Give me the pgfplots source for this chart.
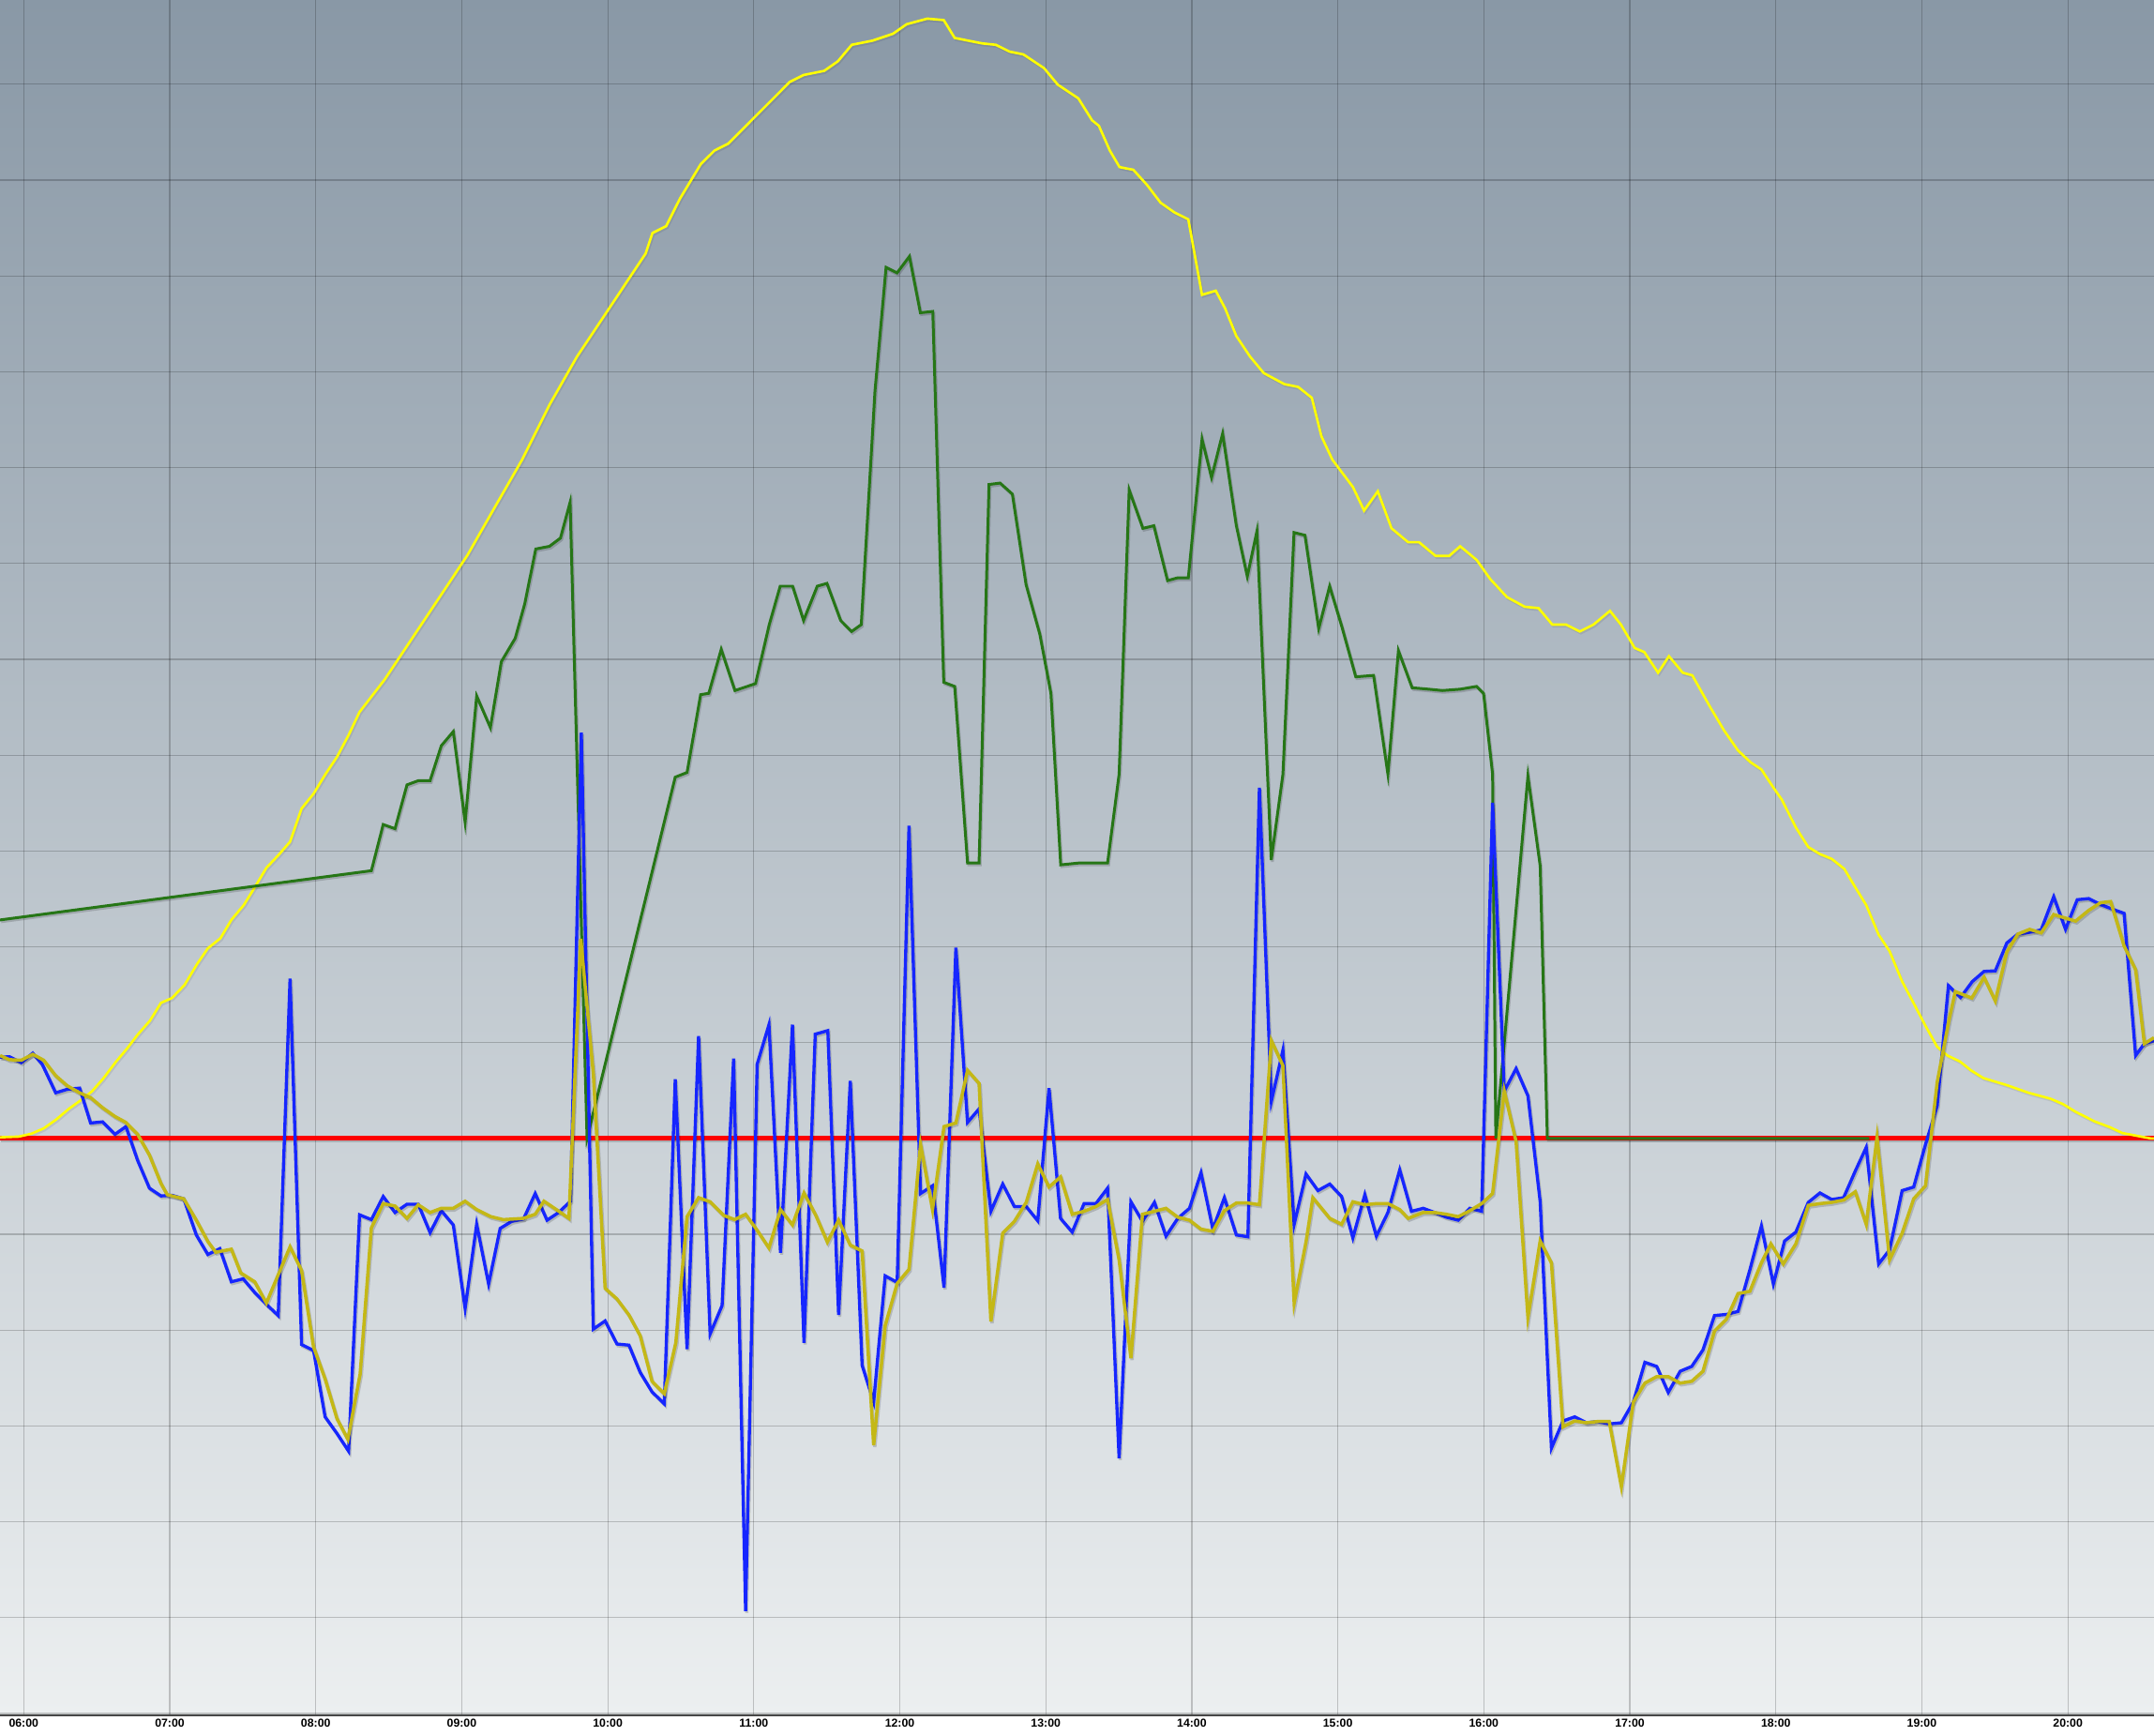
\documentclass[border=0pt]{standalone}
\usepackage{pgfplots}
\usepackage{pgfplotstable}
\pgfplotsset{compat=1.18}
\usepackage{fontspec}
\setmainfont{Liberation Sans}
\definecolor{bgtop}{RGB}{137,152,166}
\definecolor{bgbot}{RGB}{236,239,240}
\definecolor{cblue}{RGB}{22,38,255}
\definecolor{colive}{RGB}{196,184,22}
\definecolor{cyellow}{RGB}{255,255,0}
\definecolor{cgreen}{RGB}{38,118,22}
\definecolor{cred}{RGB}{255,0,0}
\pgfplotstableread{
x y
5.838 0.012
5.966 0.019
6.052 0.049
6.137 0.105
6.223 0.198
6.309 0.309
6.394 0.402
6.469 0.494
6.544 0.624
6.630 0.797
6.705 0.933
6.780 1.082
6.865 1.230
6.940 1.415
7.015 1.465
7.101 1.601
7.186 1.817
7.261 1.984
7.347 2.089
7.422 2.281
7.507 2.435
7.582 2.620
7.662 2.824
7.743 2.954
7.824 3.096
7.903 3.443
7.985 3.597
8.064 3.795
8.145 3.980
8.225 4.209
8.300 4.450
8.472 4.789
8.660 5.219
8.848 5.649
9.036 6.079
9.224 6.581
9.413 7.082
9.601 7.656
9.789 8.158
9.977 8.588
10.165 9.018
10.259 9.233
10.306 9.448
10.400 9.520
10.494 9.806
10.636 10.165
10.730 10.308
10.824 10.380
10.965 10.595
11.106 10.810
11.247 11.025
11.341 11.097
11.482 11.140
11.576 11.240
11.671 11.412
11.812 11.455
11.953 11.527
12.047 11.627
12.188 11.685
12.301 11.670
12.376 11.484
12.470 11.455
12.564 11.427
12.658 11.412
12.752 11.341
12.846 11.312
12.988 11.168
13.082 10.996
13.223 10.853
13.317 10.624
13.364 10.566
13.439 10.308
13.505 10.136
13.599 10.108
13.693 9.950
13.787 9.763
13.881 9.663
13.976 9.591
14.070 8.803
14.164 8.846
14.229 8.659
14.305 8.373
14.399 8.158
14.493 7.986
14.634 7.871
14.728 7.842
14.822 7.728
14.888 7.326
14.963 7.082
15.104 6.796
15.180 6.552
15.274 6.753
15.368 6.366
15.481 6.222
15.556 6.222
15.669 6.079
15.763 6.079
15.838 6.179
15.951 6.036
16.045 5.835
16.158 5.649
16.280 5.548
16.374 5.534
16.469 5.362
16.563 5.362
16.657 5.290
16.751 5.362
16.864 5.505
16.939 5.362
17.033 5.118
17.099 5.075
17.193 4.860
17.268 5.032
17.362 4.860
17.428 4.832
17.550 4.502
17.645 4.258
17.741 4.048
17.827 3.925
17.901 3.850
17.976 3.677
18.041 3.535
18.137 3.245
18.222 3.041
18.302 2.967
18.383 2.917
18.469 2.812
18.544 2.621
18.619 2.435
18.704 2.126
18.779 1.953
18.865 1.638
18.940 1.422
19.025 1.174
19.104 0.958
19.175 0.865
19.261 0.803
19.336 0.711
19.421 0.630
19.582 0.556
19.732 0.476
19.882 0.414
19.967 0.358
20.053 0.278
20.181 0.179
20.288 0.117
20.374 0.056
20.481 0.025
20.567 0.000
20.590 0.000
}\tyellow
\pgfplotstableread{
x y
5.8375 2.280
8.381 2.794
8.462 3.276
8.543 3.232
8.625 3.690
8.702 3.733
8.783 3.733
8.860 4.098
8.942 4.246
9.023 3.300
9.102 4.617
9.196 4.287
9.271 4.975
9.366 5.219
9.431 5.577
9.507 6.151
9.601 6.179
9.676 6.265
9.742 6.638
9.858 0.000
10.462 3.770
10.543 3.819
10.636 4.631
10.692 4.645
10.777 5.104
10.871 4.674
11.012 4.746
11.106 5.362
11.181 5.763
11.266 5.763
11.341 5.405
11.435 5.763
11.501 5.792
11.595 5.405
11.670 5.290
11.736 5.362
11.830 7.799
11.906 9.090
11.981 9.032
12.066 9.204
12.141 8.616
12.226 8.630
12.301 4.760
12.376 4.717
12.464 2.874
12.543 2.874
12.611 6.824
12.687 6.839
12.771 6.724
12.865 5.778
12.959 5.262
13.035 4.645
13.102 2.855
13.224 2.874
13.423 2.874
13.502 3.801
13.571 6.767
13.665 6.366
13.740 6.394
13.834 5.821
13.900 5.849
13.976 5.849
14.070 7.297
14.135 6.896
14.211 7.355
14.305 6.394
14.380 5.864
14.446 6.337
14.544 2.905
14.624 3.801
14.700 6.323
14.775 6.294
14.869 5.319
14.944 5.763
15.029 5.333
15.123 4.817
15.245 4.832
15.343 3.801
15.415 5.090
15.509 4.703
15.622 4.688
15.716 4.674
15.838 4.688
15.951 4.717
15.998 4.645
16.060 3.801
16.082 0.000
16.302 3.782
16.386 2.843
16.435 0.000
18.640 0.000
}\tgreen
\pgfplotstableread{
x y
5.838 0.847
5.902 0.853
5.983 0.791
6.062 0.890
6.127 0.773
6.219 0.476
6.298 0.513
6.383 0.525
6.458 0.161
6.540 0.173
6.625 0.043
6.700 0.124
6.780 -0.229
6.861 -0.519
6.940 -0.600
7.015 -0.593
7.096 -0.630
7.182 -1.007
7.261 -1.211
7.343 -1.150
7.422 -1.496
7.503 -1.465
7.582 -1.607
7.662 -1.731
7.743 -1.848
7.824 1.669
7.903 -2.151
7.985 -2.213
8.064 -2.905
8.145 -3.078
8.225 -3.263
8.300 -0.797
8.381 -0.847
8.462 -0.606
8.543 -0.773
8.625 -0.686
8.702 -0.686
8.783 -0.983
8.860 -0.754
8.942 -0.902
9.023 -1.774
9.102 -0.896
9.184 -1.520
9.263 -0.939
9.342 -0.865
9.423 -0.840
9.503 -0.575
9.584 -0.853
9.663 -0.773
9.745 -0.655
9.819 4.234
9.901 -1.990
9.982 -1.904
10.063 -2.145
10.145 -2.157
10.222 -2.441
10.303 -2.644
10.387 -2.769
10.462 0.618
10.543 -2.200
10.622 1.069
10.701 -2.040
10.783 -1.743
10.862 0.834
10.944 -4.932
11.023 0.773
11.104 1.187
11.183 -1.193
11.265 1.187
11.344 -2.132
11.421 1.088
11.507 1.125
11.581 -1.842
11.661 0.600
11.742 -2.367
11.821 -2.750
11.900 -1.434
11.982 -1.502
12.063 3.263
12.142 -0.575
12.224 -0.494
12.303 -1.557
12.384 1.990
12.464 0.167
12.543 0.309
12.624 -0.760
12.705 -0.476
12.785 -0.711
12.866 -0.711
12.945 -0.859
13.022 0.525
13.101 -0.834
13.181 -0.977
13.262 -0.680
13.343 -0.680
13.423 -0.519
13.502 -3.337
13.583 -0.661
13.662 -0.865
13.744 -0.667
13.823 -1.020
13.904 -0.834
13.984 -0.729
14.063 -0.358
14.144 -0.946
14.223 -0.618
14.305 -1.007
14.384 -1.026
14.463 3.659
14.545 0.389
14.624 0.921
14.701 -0.896
14.782 -0.371
14.864 -0.544
14.945 -0.476
15.026 -0.606
15.103 -1.038
15.185 -0.587
15.264 -1.020
15.343 -0.773
15.424 -0.328
15.504 -0.760
15.585 -0.729
15.664 -0.773
15.743 -0.822
15.825 -0.853
15.904 -0.729
15.985 -0.760
16.060 3.504
16.140 0.494
16.221 0.729
16.302 0.445
16.386 -0.661
16.463 -3.232
16.542 -2.948
16.623 -2.905
16.703 -2.967
16.777 -2.954
16.859 -2.979
16.942 -2.967
17.024 -2.750
17.103 -2.336
17.184 -2.379
17.263 -2.651
17.345 -2.429
17.424 -2.379
17.501 -2.206
17.580 -1.848
17.662 -1.836
17.741 -1.805
17.822 -1.372
17.901 -0.915
17.983 -1.520
18.060 -1.070
18.137 -0.977
18.222 -0.667
18.302 -0.569
18.383 -0.637
18.464 -0.618
18.544 -0.340
18.619 -0.093
18.704 -1.310
18.779 -1.162
18.865 -0.544
18.944 -0.507
19.025 -0.062
19.105 0.340
19.182 1.595
19.265 1.471
19.346 1.638
19.426 1.743
19.503 1.749
19.582 2.040
19.657 2.132
19.738 2.151
19.817 2.176
19.903 2.522
19.984 2.182
20.064 2.491
20.143 2.503
20.224 2.441
20.306 2.392
20.385 2.349
20.464 0.865
20.524 0.989
20.590 1.020
}\tblue
\pgfplotstableread{
x y
5.838 0.865
5.902 0.822
5.983 0.816
6.062 0.878
6.137 0.816
6.219 0.655
6.298 0.550
6.383 0.476
6.458 0.426
6.540 0.321
6.625 0.229
6.700 0.167
6.780 0.043
6.861 -0.173
6.940 -0.470
6.983 -0.587
7.096 -0.630
7.182 -0.853
7.261 -1.075
7.315 -1.187
7.422 -1.156
7.486 -1.403
7.582 -1.496
7.662 -1.718
7.743 -1.422
7.824 -1.131
7.903 -1.378
7.985 -2.176
8.064 -2.509
8.145 -2.923
8.220 -3.140
8.304 -2.459
8.381 -0.933
8.462 -0.680
8.543 -0.705
8.625 -0.834
8.702 -0.692
8.783 -0.773
8.860 -0.729
8.942 -0.729
9.023 -0.655
9.102 -0.742
9.199 -0.816
9.284 -0.847
9.423 -0.834
9.503 -0.791
9.563 -0.655
9.648 -0.742
9.734 -0.834
9.815 2.083
9.901 0.680
9.982 -1.564
10.063 -1.675
10.145 -1.842
10.222 -2.058
10.303 -2.534
10.387 -2.664
10.466 -2.132
10.543 -0.816
10.622 -0.618
10.701 -0.661
10.794 -0.803
10.869 -0.847
10.944 -0.791
11.023 -0.958
11.104 -1.143
11.183 -0.742
11.265 -0.902
11.344 -0.569
11.425 -0.803
11.504 -1.082
11.581 -0.853
11.661 -1.113
11.742 -1.174
11.821 -3.201
11.900 -1.953
11.982 -1.514
12.063 -1.366
12.142 -0.062
12.224 -0.742
12.303 0.124
12.384 0.161
12.464 0.711
12.543 0.575
12.624 -1.910
12.705 -0.989
12.785 -0.865
12.866 -0.667
12.945 -0.266
13.022 -0.507
13.101 -0.402
13.181 -0.791
13.262 -0.760
13.343 -0.711
13.423 -0.637
13.502 -1.267
13.583 -2.293
13.662 -0.791
13.744 -0.760
13.823 -0.729
13.904 -0.822
13.984 -0.853
14.063 -0.946
14.144 -0.970
14.223 -0.754
14.305 -0.674
14.384 -0.674
14.463 -0.692
14.545 1.020
14.624 0.760
14.701 -1.718
14.782 -1.082
14.829 -0.618
14.945 -0.834
15.026 -0.896
15.103 -0.661
15.185 -0.692
15.264 -0.680
15.343 -0.680
15.424 -0.742
15.482 -0.834
15.585 -0.773
15.664 -0.773
15.743 -0.791
15.825 -0.816
15.904 -0.754
15.985 -0.680
16.060 -0.575
16.140 0.494
16.221 -0.031
16.302 -1.867
16.386 -1.069
16.463 -1.298
16.542 -3.010
16.623 -2.948
16.703 -2.967
16.777 -2.954
16.859 -2.954
16.942 -3.634
17.024 -2.750
17.103 -2.553
17.184 -2.485
17.263 -2.485
17.345 -2.553
17.424 -2.534
17.501 -2.429
17.580 -2.009
17.662 -1.885
17.741 -1.619
17.822 -1.595
17.901 -1.298
17.966 -1.100
18.051 -1.310
18.137 -1.100
18.222 -0.698
18.302 -0.680
18.383 -0.667
18.464 -0.643
18.544 -0.556
18.619 -0.896
18.693 0.012
18.779 -1.267
18.865 -0.989
18.944 -0.630
19.025 -0.494
19.105 0.587
19.186 1.236
19.229 1.533
19.342 1.465
19.426 1.681
19.503 1.434
19.582 1.947
19.657 2.132
19.738 2.182
19.817 2.145
19.903 2.336
19.984 2.299
20.053 2.268
20.143 2.380
20.224 2.460
20.293 2.472
20.385 2.009
20.464 1.761
20.524 0.989
20.590 1.051
}\tolive
\begin{document}
\begin{tikzpicture}
\begin{axis}[
  scale only axis,
  width=22.97cm, height=18.29cm,
  xmin=5.8375, xmax=20.59,
  ymin=-6.02, ymax=11.88,
  axis background/.style={top color=bgtop, bottom color=bgbot},
  axis x line=bottom, axis y line=left,
  x axis line style={-, draw=black!72, line width=0.8pt},
  y axis line style={draw=none},
  xtick={6,7,8,9,10,11,12,13,14,15,16,17,18,19,20},
  xticklabels={06:00,07:00,08:00,09:00,10:00,11:00,12:00,13:00,14:00,15:00,16:00,17:00,18:00,19:00,20:00},
  ytick={-6,-5,...,11},
  yticklabels={},
  major tick length=0pt,
  xmajorgrids=true, ymajorgrids=true,
  major grid style={black, opacity=0.2, line width=0.35pt},
  xticklabel style={font=\bfseries\fontsize{3.5}{4}\selectfont, inner sep=0.6pt, yshift=-0.3pt},
  clip=true,
  shadow/.style={black, opacity=0.16, transform canvas={xshift=0.35pt, yshift=-0.55pt}},
]
\coordinate (ll) at (rel axis cs:0,0);
\coordinate (ur) at (rel axis cs:1,1);
% red zero line
\addplot[shadow, line width=1.4pt] coordinates {(5.8375,0) (20.59,0)};
\addplot[cred, line width=1.4pt] coordinates {(5.8375,0) (20.59,0)};
% yellow
\addplot[shadow, opacity=0.08, line width=0.7pt] table {\tyellow};
\addplot[cyellow, line width=0.75pt] table {\tyellow};
% green
\addplot[shadow, line width=0.85pt] table {\tgreen};
\addplot[cgreen, line width=0.85pt] table {\tgreen};
% blue
\addplot[shadow, line width=0.95pt] table {\tblue};
\addplot[cblue, line width=0.95pt] table {\tblue};
% olive
\addplot[shadow, line width=1.0pt] table {\tolive};
\addplot[colive, line width=1.0pt] table {\tolive};
\end{axis}
\pgfresetboundingbox
\path ([yshift=-0.22cm]ll) rectangle (ur);
\end{tikzpicture}
\end{document}
